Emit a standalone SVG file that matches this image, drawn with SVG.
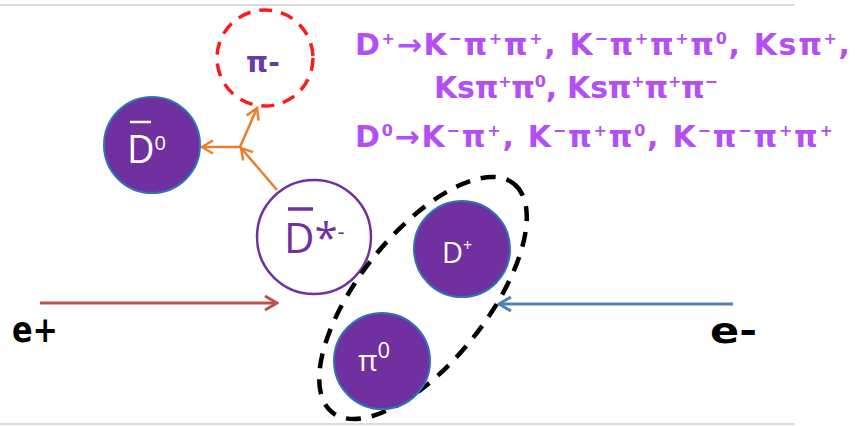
<svg xmlns="http://www.w3.org/2000/svg" width="856" height="426" viewBox="0 0 856 426">
<style>
.fillnode{fill:#7030a0;stroke:#2e75b6;stroke-width:2}
.wt{fill:#ffffff;font-family:"Open Sans","Liberation Sans",sans-serif;font-weight:normal}
.pt{fill:#b44ff5;font-family:"DejaVu Sans","Liberation Sans",sans-serif;font-weight:bold;font-size:30px}
.sup{font-size:16px;baseline-shift:11px}
.lbl{fill:#000;font-family:"DejaVu Sans","Liberation Sans",sans-serif;font-weight:bold;font-size:36px}
.frame{stroke:#dcdcdc;stroke-width:2}
</style>
<defs>
<marker id="ao" markerUnits="userSpaceOnUse" markerWidth="16" markerHeight="16" viewBox="0 0 16 16" refX="14" refY="8" orient="auto">
<path d="M3,1.5 L14,8 L3,14.5" fill="none" stroke="#e8802a" stroke-width="2.5"/>
</marker>
<marker id="ar" markerUnits="userSpaceOnUse" markerWidth="18" markerHeight="18" viewBox="0 0 18 18" refX="16" refY="9" orient="auto">
<path d="M4,2 L16,9 L4,16" fill="none" stroke="#c0504d" stroke-width="3"/>
</marker>
<marker id="ab" markerUnits="userSpaceOnUse" markerWidth="18" markerHeight="18" viewBox="0 0 18 18" refX="16" refY="9" orient="auto">
<path d="M4,2 L16,9 L4,16" fill="none" stroke="#4f81bd" stroke-width="3"/>
</marker>
</defs>
<rect width="856" height="426" fill="#ffffff"/>
<line class="frame" x1="0" y1="5" x2="795" y2="5"/>
<line class="frame" x1="0" y1="424" x2="795" y2="424"/>

<g id="connectors">
<line x1="277" y1="190" x2="241" y2="148" stroke="#e8802a" stroke-width="2.5" marker-end="url(#ao)"/>
<line x1="240" y1="147" x2="202" y2="147" stroke="#e8802a" stroke-width="2.5" marker-end="url(#ao)"/>
<line x1="240" y1="147" x2="257" y2="108" stroke="#e8802a" stroke-width="2.5" marker-end="url(#ao)"/>
<line x1="40" y1="303" x2="277" y2="303" stroke="#c0504d" stroke-width="3" marker-end="url(#ar)"/>
<line x1="733" y1="304" x2="499" y2="304" stroke="#4f81bd" stroke-width="3" marker-end="url(#ab)"/>
</g>

<g id="pi-minus">
<circle cx="265" cy="58" r="48" fill="none" stroke="#ff1a1a" stroke-width="3.5" stroke-dasharray="13 9"/>
<text x="246" y="72" fill="#6a3aa8" font-family="'DejaVu Sans','Liberation Sans',sans-serif" font-weight="bold" font-size="28">π-</text>
</g>

<g id="D0bar">
<circle class="fillnode" cx="152" cy="145" r="48"/>
<line x1="130" y1="122" x2="151" y2="122" stroke="#fff" stroke-width="2.5"/>
<text class="wt" x="127" y="163" font-size="38">D<tspan font-size="20" baseline-shift="13">0</tspan></text>
</g>

<g id="Dstar-minus">
<circle cx="314" cy="237" r="57" fill="#fff" stroke="#7030a0" stroke-width="2.5"/>
<line x1="288" y1="209" x2="313" y2="209" stroke="#7030a0" stroke-width="3.5"/>
<text x="284" y="253" fill="#7030a0" font-family="'Open Sans','Liberation Sans',sans-serif" font-size="42">D*<tspan font-size="22" baseline-shift="14">-</tspan></text>
</g>

<g id="pair">
<ellipse cx="423" cy="298" rx="146" ry="64" transform="rotate(-51.5 423 298)" fill="none" stroke="#000" stroke-width="4.5" stroke-dasharray="15 11"/>
</g>

<g id="Dplus">
<circle class="fillnode" cx="462" cy="249" r="48"/>
<text class="wt" x="442" y="263" font-size="29">D<tspan font-size="16" baseline-shift="12">+</tspan></text>
</g>

<g id="pi0">
<circle class="fillnode" cx="382" cy="361" r="48"/>
<text class="wt" x="358" y="371" font-size="30">π<tspan font-size="22" baseline-shift="13">0</tspan></text>
</g>

<g id="decays">
<text class="pt" x="355" y="55" textLength="495" lengthAdjust="spacing">D<tspan class="sup">+</tspan>→K<tspan class="sup">−</tspan>π<tspan class="sup">+</tspan>π<tspan class="sup">+</tspan>, K<tspan class="sup">−</tspan>π<tspan class="sup">+</tspan>π<tspan class="sup">+</tspan>π<tspan class="sup">0</tspan>, Ksπ<tspan class="sup">+</tspan>,</text>
<text class="pt" x="434" y="98" textLength="284" lengthAdjust="spacing">Ksπ<tspan class="sup">+</tspan>π<tspan class="sup">0</tspan>, Ksπ<tspan class="sup">+</tspan>π<tspan class="sup">+</tspan>π<tspan class="sup">−</tspan></text>
<text class="pt" x="355" y="147" textLength="478" lengthAdjust="spacing">D<tspan class="sup">0</tspan>→K<tspan class="sup">−</tspan>π<tspan class="sup">+</tspan>, K<tspan class="sup">−</tspan>π<tspan class="sup">+</tspan>π<tspan class="sup">0</tspan>, K<tspan class="sup">−</tspan>π<tspan class="sup">−</tspan>π<tspan class="sup">+</tspan>π<tspan class="sup">+</tspan></text>
</g>

<g id="e-plus">
<text class="lbl" x="12" y="342" textLength="46" lengthAdjust="spacingAndGlyphs">e+</text>
</g>
<g id="e-minus">
<text class="lbl" x="710" y="343" textLength="47" lengthAdjust="spacingAndGlyphs">e-</text>
</g>
</svg>
